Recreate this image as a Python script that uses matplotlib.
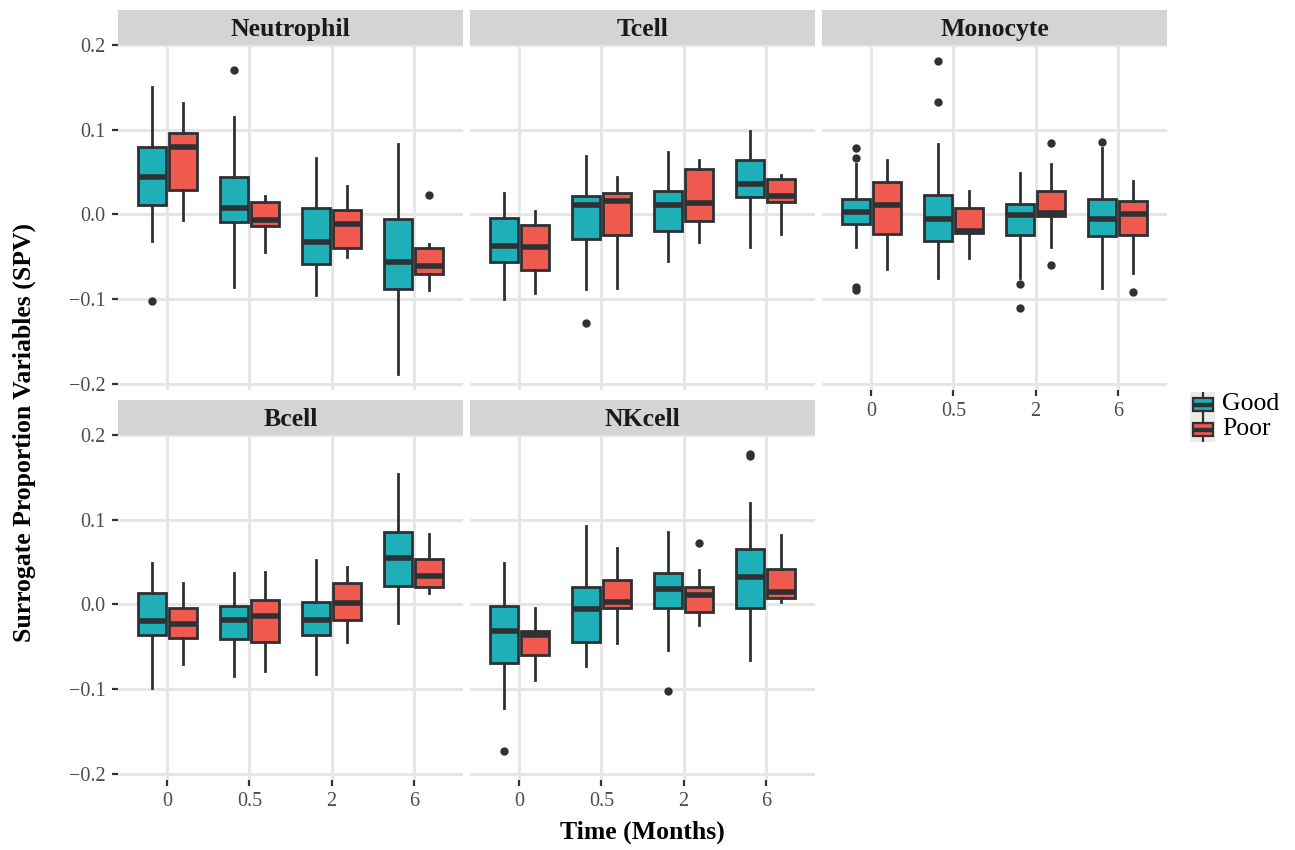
import matplotlib
matplotlib.use('Agg')
import matplotlib.pyplot as plt
from matplotlib.patches import Rectangle

plt.rcParams['font.family'] = ['Liberation Serif', 'DejaVu Serif']
plt.rcParams['axes.unicode_minus'] = True

times = ['0', '0.5', '2', '6']
panels = ['Neutrophil', 'Tcell', 'Monocyte', 'Bcell', 'NKcell']
groups = ['Good', 'Poor']

# per time point: [low whisker, Q1, median, Q3, high whisker]
neutrophil_good = [[-0.032, 0.011, 0.044, 0.080, 0.150], [-0.086, -0.009, 0.007, 0.044, 0.115],
                   [-0.095, -0.059, -0.033, 0.007, 0.067], [-0.189, -0.088, -0.056, -0.006, 0.083]]
neutrophil_poor = [[-0.007, 0.029, 0.080, 0.096, 0.131], [-0.045, -0.014, -0.007, 0.014, 0.022],
                   [-0.050, -0.040, -0.012, 0.005, 0.034], [-0.089, -0.070, -0.061, -0.040, -0.035]]
neutrophil_good_out = [[-0.102], [0.170], [], []]
neutrophil_poor_out = [[], [], [], [0.023]]

tcell_good = [[-0.100, -0.056, -0.038, -0.004, 0.025], [-0.088, -0.029, 0.011, 0.022, 0.069],
              [-0.055, -0.020, 0.011, 0.028, 0.074], [-0.039, 0.021, 0.036, 0.064, 0.099]]
tcell_poor = [[-0.093, -0.066, -0.039, -0.013, 0.004], [-0.087, -0.024, 0.016, 0.025, 0.044],
              [-0.033, -0.008, 0.013, 0.053, 0.064], [-0.023, 0.015, 0.022, 0.042, 0.046]]
tcell_good_out = [[], [-0.128], [], []]
tcell_poor_out = [[], [], [], []]

monocyte_good = [[-0.039, -0.012, 0.003, 0.018, 0.060], [-0.075, -0.032, -0.006, 0.023, 0.083],
                 [-0.075, -0.025, -0.001, 0.012, 0.049], [-0.087, -0.026, -0.006, 0.018, 0.078]]
monocyte_poor = [[-0.065, -0.023, 0.011, 0.038, 0.064], [-0.052, -0.022, -0.020, 0.007, 0.027],
                 [-0.039, -0.002, 0.002, 0.027, 0.060], [-0.069, -0.024, 0.000, 0.016, 0.039]]
monocyte_good_out = [[0.078, 0.067, -0.086, -0.089], [0.181, 0.133], [-0.082, -0.111], [0.085]]
monocyte_poor_out = [[], [], [0.084, -0.060], [-0.092]]

bcell_good = [[-0.099, -0.036, -0.020, 0.013, 0.049], [-0.085, -0.041, -0.018, -0.002, 0.037],
              [-0.082, -0.036, -0.019, 0.003, 0.052], [-0.022, 0.022, 0.055, 0.086, 0.154]]
bcell_poor = [[-0.071, -0.040, -0.023, -0.004, 0.025], [-0.079, -0.044, -0.014, 0.005, 0.038],
              [-0.045, -0.019, 0.002, 0.025, 0.044], [0.013, 0.021, 0.034, 0.054, 0.083]]
bcell_good_out = [[], [], [], []]
bcell_poor_out = [[], [], [], []]

nkcell_good = [[-0.123, -0.069, -0.032, -0.002, 0.049], [-0.073, -0.044, -0.006, 0.020, 0.092],
               [-0.054, -0.004, 0.018, 0.037, 0.085], [-0.066, -0.004, 0.032, 0.065, 0.120]]
nkcell_poor = [[-0.089, -0.060, -0.036, -0.031, -0.004], [-0.046, -0.004, 0.003, 0.029, 0.066],
               [-0.025, -0.009, 0.011, 0.021, 0.040], [0.003, 0.007, 0.015, 0.042, 0.082]]
nkcell_good_out = [[-0.173], [], [-0.102], [0.175, 0.177]]
nkcell_poor_out = [[], [], [0.072], []]

panel_data = {
    'Neutrophil': (neutrophil_good, neutrophil_poor, neutrophil_good_out, neutrophil_poor_out),
    'Tcell': (tcell_good, tcell_poor, tcell_good_out, tcell_poor_out),
    'Monocyte': (monocyte_good, monocyte_poor, monocyte_good_out, monocyte_poor_out),
    'Bcell': (bcell_good, bcell_poor, bcell_good_out, bcell_poor_out),
    'NKcell': (nkcell_good, nkcell_poor, nkcell_good_out, nkcell_poor_out),
}

colors = {'Good': '#1FAFB8', 'Poor': '#F0594D'}
edge = '#2E3134'
grid_c = '#E6E6E6'
tick_c = '#4D4D4D'

W, H = 1295, 850
fig = plt.figure(figsize=(W / 100, H / 100), dpi=100)

lefts = [118, 470, 822]
tops = [45, 435]
pw, ph = 345, 345
strip_h = 35


def stats_list(summ, outs):
    out = []
    for s, o in zip(summ, outs):
        out.append({'whislo': s[0], 'q1': s[1], 'med': s[2], 'q3': s[3], 'whishi': s[4], 'fliers': o})
    return out


def draw_boxes(ax, stats, positions, color, width, lw=2.0):
    ax.bxp(stats, positions=positions, widths=width, patch_artist=True, showcaps=False,
           boxprops=dict(facecolor=color, edgecolor=edge, linewidth=lw),
           whiskerprops=dict(color=edge, linewidth=lw),
           medianprops=dict(color=edge, linewidth=lw * 2, solid_capstyle='butt'),
           flierprops=dict(marker='o', markerfacecolor=edge, markeredgecolor=edge, markersize=5),
           manage_ticks=False)


for i, name in enumerate(panels):
    row, col = divmod(i, 3)
    left, top = lefts[col], tops[row]
    ax = fig.add_axes([left / W, 1 - (top + ph) / H, pw / W, ph / H])
    good, poor, good_out, poor_out = panel_data[name]
    pos = list(range(1, len(times) + 1))
    draw_boxes(ax, stats_list(good, good_out), [p - 0.1875 for p in pos], colors['Good'], 0.3375)
    draw_boxes(ax, stats_list(poor, poor_out), [p + 0.1875 for p in pos], colors['Poor'], 0.3375)

    ax.set_xlim(0.4, 4.6)
    ax.set_ylim(-0.2075, 0.1995)
    ax.set_xticks(pos)
    ax.set_xticklabels(times)
    ax.set_yticks([-0.2, -0.1, 0.0, 0.1, 0.2])
    ax.set_yticklabels(['\u22120.2', '\u22120.1', '0.0', '0.1', '0.2'])
    ax.grid(True, color=grid_c, linewidth=2.2)
    ax.set_axisbelow(True)
    for sp in ax.spines.values():
        sp.set_visible(False)
    ax.tick_params(axis='both', length=4, width=1.6, color='#333333', labelcolor=tick_c,
                   labelsize=14.5, pad=5)
    if col != 0:
        ax.tick_params(axis='y', left=False, labelleft=False)
    if not (row == 1 or name == 'Monocyte'):
        ax.tick_params(axis='x', bottom=False, labelbottom=False)

    # facet strip
    ax.add_patch(Rectangle((0, 1), 1, strip_h / ph, transform=ax.transAxes,
                           facecolor='#D3D4D3', edgecolor='none', clip_on=False))
    ax.text(0.5, 1 + strip_h / ph / 2 - 2 / ph, name, transform=ax.transAxes, ha='center',
            va='center', fontsize=18.5, fontweight='bold', color='#1A1A1A')

# axis titles
fig.text(642 / W, 1 - 832 / H, 'Time (Months)', ha='center', va='center',
         fontsize=18.5, fontweight='bold')
fig.text(24 / W, 1 - 432 / H, 'Surrogate Proportion Variables (SPV)', ha='center', va='center',
         rotation=90, fontsize=18.5, fontweight='bold')

# legend keys
for k, g in enumerate(groups):
    kax = fig.add_axes([1190 / W, 1 - (417 + 25 * k) / H, 25 / W, 25 / H])
    kax.set_facecolor('#EBEBEB')
    kax.set_xlim(0, 1)
    kax.set_ylim(0, 1)
    draw_boxes(kax, [{'whislo': 0.0, 'q1': 0.25, 'med': 0.5, 'q3': 0.75, 'whishi': 1.0, 'fliers': []}],
               [0.5], colors[g], 0.8, lw=1.6)
    kax.set_xticks([])
    kax.set_yticks([])
    for sp in kax.spines.values():
        sp.set_visible(False)
    fig.text(1222 / W, 1 - (404.5 + 25 * k) / H, g, ha='left', va='center', fontsize=18.5)

fig.savefig('out.png', dpi=100, facecolor='white')
